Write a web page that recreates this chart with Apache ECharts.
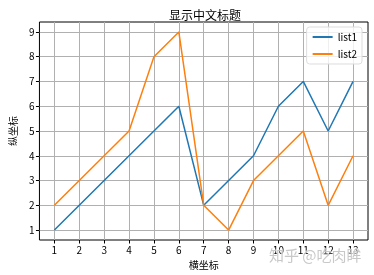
<!DOCTYPE html>
<html><head><meta charset="utf-8">
<script src="https://cdn.jsdelivr.net/npm/echarts@6/dist/echarts.min.js"></script>
<style>html,body{margin:0;padding:0;background:#fff}#c{width:374px;height:275px}</style>
</head><body><div id="c"></div>
<script>
const xValues = [1,2,3,4,5,6,7,8,9,10,11,12,13];
const list1 = [1,2,3,4,5,6,2,3,4,6,7,5,7];
const list2 = [2,3,4,5,8,9,2,1,3,4,5,2,4];
const xTicks = [1,2,3,4,5,6,7,8,9,10,11,12,13];
const yTicks = [1,2,3,4,5,6,7,8,9];
const titleText = '显示中文标题';
const xName = '横坐标';
const yName = '纵坐标';
const watermark = '知乎 @吃肉眸';

const FONT = '"Noto Sans CJK SC", sans-serif';
const chart = echarts.init(document.getElementById('c'), null, {renderer:'canvas'});
const axisCommon = {
  axisLine:{show:false},
  axisTick:{show:true, inside:false, length:3.5, lineStyle:{color:'#000', width:1}},
  axisLabel:{color:'#000', fontSize:10, fontFamily:FONT, margin:5},
  splitLine:{show:true, lineStyle:{color:'#b0b0b0', width:1}}
};
chart.setOption({
  animation:false,
  title:{text:titleText, left:200, textAlign:'center', top:4,
    textStyle:{fontSize:12, fontWeight:'normal', color:'#000', fontFamily:FONT}},
  grid:{left:33, right:6, top:22, bottom:35, show:true, borderColor:'#000', borderWidth:1, containLabel:false},
  legend:{
    orient:'vertical', right:12, top:27,
    data:['list1','list2'],
    icon:'rect', itemWidth:20, itemHeight:2, itemGap:7,
    backgroundColor:'rgba(255,255,255,0.8)', borderColor:'#dddddd', borderWidth:1, borderRadius:3,
    padding:[5,5,5,6],
    textStyle:{fontSize:10, color:'#000', fontFamily:FONT}
  },
  xAxis:{type:'value', min:0.4, max:13.6,
    name:xName, nameLocation:'middle', nameGap:19,
    nameTextStyle:{fontSize:10, color:'#000', fontFamily:FONT},
    ...axisCommon,
    axisTick:{...axisCommon.axisTick, customValues:xTicks},
    axisLabel:{...axisCommon.axisLabel, customValues:xTicks}
  },
  yAxis:{type:'value', min:0.6, max:9.4,
    name:yName, nameLocation:'middle', nameGap:19, nameRotate:90,
    nameTextStyle:{fontSize:10, color:'#000', fontFamily:FONT},
    ...axisCommon,
    axisTick:{...axisCommon.axisTick, customValues:yTicks},
    axisLabel:{...axisCommon.axisLabel, customValues:yTicks}
  },
  series:[
    {name:'list1', type:'line', data:xValues.map((x,i)=>[x,list1[i]]), showSymbol:false,
     lineStyle:{color:'#1f77b4', width:1.5}, itemStyle:{color:'#1f77b4'}},
    {name:'list2', type:'line', data:xValues.map((x,i)=>[x,list2[i]]), showSymbol:false,
     lineStyle:{color:'#ff7f0e', width:1.5}, itemStyle:{color:'#ff7f0e'}}
  ],
  graphic:[{type:'text', right:12, top:247, z:100,
    style:{text:watermark, fontSize:15, fontFamily:FONT, fill:'rgba(190,190,190,0.85)',
      stroke:'rgba(255,255,255,0.6)', lineWidth:1}}]
});
</script></body></html>
